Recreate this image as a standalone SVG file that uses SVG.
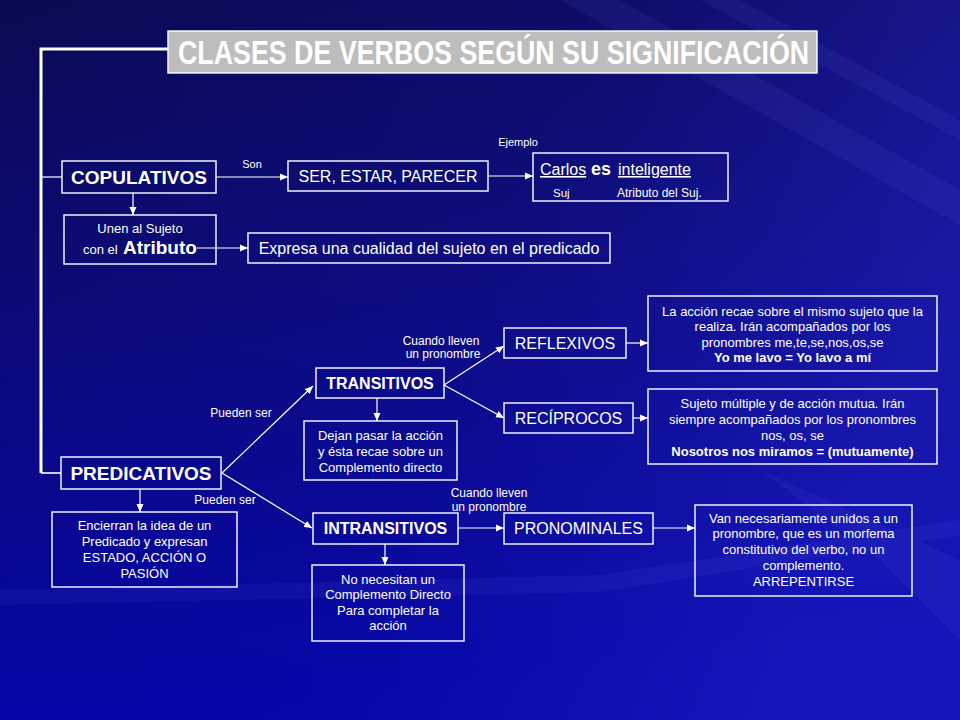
<svg xmlns="http://www.w3.org/2000/svg" width="960" height="720" viewBox="0 0 960 720">
<defs>
<linearGradient id="bg" x1="0" y1="0" x2="0.15" y2="1">
<stop offset="0" stop-color="#0a0a52"/>
<stop offset="0.45" stop-color="#0a0a78"/>
<stop offset="1" stop-color="#0303a6"/>
</linearGradient>
<linearGradient id="bg2" x1="0" y1="0" x2="1" y2="0.3">
<stop offset="0" stop-color="#2020c0" stop-opacity="0"/>
<stop offset="0.55" stop-color="#2020c0" stop-opacity="0.12"/>
<stop offset="1" stop-color="#2a2ad0" stop-opacity="0.45"/>
</linearGradient>
<marker id="ah" viewBox="0 0 8 8" refX="8" refY="4" markerWidth="8" markerHeight="8" markerUnits="userSpaceOnUse" orient="auto">
<path d="M0,0.5 L8,4 L0,7.5 z" fill="#fff"/>
</marker>
<style>
.box{fill:none;stroke:#fff;stroke-width:1.4}
.c{fill:none;stroke:#fff;stroke-width:1.2}
.t{font-family:"Liberation Sans",Arial,sans-serif;fill:#fff}
.m{text-anchor:middle}
.b{font-weight:bold}
.s11{font-size:11px}
.s12{font-size:12px}
.s13{font-size:13px}
.s16{font-size:16px}
.s19{font-size:19px}
</style>
</defs>
<rect width="960" height="720" fill="url(#bg)"/>
<rect width="960" height="720" fill="url(#bg2)"/>
<g opacity="0.07" fill="#8080ff">
<polygon points="560,0 620,0 960,190 960,225"/>
<polygon points="700,0 740,0 960,120 960,140"/>
<polygon points="0,590 600,575 960,520 960,535 600,592 0,605"/>
<polygon points="760,470 960,560 960,640 880,560"/>
</g>

<g id="title">
<rect x="168" y="31" width="649" height="42" fill="#bdbdbd" stroke="#fff" stroke-width="1.4"/>
<text class="t b" transform="translate(178,64) scale(0.80,1)" x="0" y="0" font-size="33.5">CLASES DE VERBOS SEGÚN SU SIGNIFICACIÓN</text>
</g>

<g id="connectors">
<polyline points="168,49 41,49 41,473" fill="none" stroke="#fff" stroke-width="3"/>
<line x1="41" y1="473" x2="61" y2="473" stroke="#fff" stroke-width="1.6"/>
<line x1="41" y1="177" x2="62" y2="177" class="c"/>
<line x1="216" y1="177" x2="288" y2="177" class="c" marker-end="url(#ah)"/>
<line x1="133" y1="193" x2="133" y2="215" class="c" marker-end="url(#ah)"/>
<line x1="197" y1="248" x2="248" y2="248" class="c" marker-end="url(#ah)"/>
<line x1="488" y1="176" x2="533" y2="176" class="c" marker-end="url(#ah)"/>
<line x1="222" y1="473" x2="313" y2="386" class="c" marker-end="url(#ah)"/>
<line x1="222" y1="473" x2="312" y2="528" class="c" marker-end="url(#ah)"/>
<line x1="140" y1="489" x2="140" y2="512" class="c" marker-end="url(#ah)"/>
<line x1="377" y1="398" x2="377" y2="421" class="c" marker-end="url(#ah)"/>
<line x1="444" y1="385" x2="504" y2="346" class="c" marker-end="url(#ah)"/>
<line x1="444" y1="385" x2="504" y2="418" class="c" marker-end="url(#ah)"/>
<line x1="626" y1="343" x2="648" y2="343" class="c" marker-end="url(#ah)"/>
<line x1="633" y1="418" x2="648" y2="418" class="c" marker-end="url(#ah)"/>
<line x1="458" y1="528" x2="504" y2="528" class="c" marker-end="url(#ah)"/>
<line x1="385" y1="544" x2="385" y2="565" class="c" marker-end="url(#ah)"/>
<line x1="653" y1="528" x2="695" y2="528" class="c" marker-end="url(#ah)"/>
</g>

<g id="labels">
<text class="t s11 m" x="252" y="168">Son</text>
<text class="t s11 m" x="518" y="146">Ejemplo</text>
<text class="t s12 m" x="441" y="345">Cuando lleven</text>
<text class="t s12 m" x="443" y="358">un pronombre</text>
<text class="t s12 m" x="489" y="497">Cuando lleven</text>
<text class="t s12 m" x="489" y="511">un pronombre</text>
<text class="t s12 m" x="241" y="417">Pueden ser</text>
<text class="t s12 m" x="225" y="504">Pueden ser</text>
</g>

<g id="copulativos">
<rect class="box" x="62" y="161" width="154" height="32"/>
<text class="t b s19 m" x="139" y="183.5">COPULATIVOS</text>
</g>

<g id="unen">
<rect class="box" x="64" y="215" width="152" height="49"/>
<text class="t s13 m" x="140" y="233">Unen al Sujeto</text>
<text class="t s13" x="83" y="254">con el</text>
<text class="t b s19" x="123" y="254">Atributo</text>
</g>

<g id="ser">
<rect class="box" x="288" y="161" width="200" height="30"/>
<text class="t s16 m" x="388" y="181.8">SER, ESTAR, PARECER</text>
</g>

<g id="ejemplo">
<rect class="box" x="533" y="153" width="195" height="48"/>
<text class="t s16" x="540" y="175" text-decoration="underline">Carlos</text>
<text class="t b" x="591" y="175" font-size="18">es</text>
<text class="t s16" x="618" y="175" text-decoration="underline">inteligente</text>
<text class="t" x="553" y="197" font-size="11.5">Suj</text>
<text class="t s12" x="617" y="197">Atributo del Suj.</text>
</g>

<g id="expresa">
<rect class="box" x="248" y="233" width="362" height="30"/>
<text class="t s16 m" x="429" y="253.6">Expresa una cualidad del sujeto en el predicado</text>
</g>

<g id="predicativos">
<rect class="box" x="61" y="457" width="160" height="32"/>
<text class="t b s19 m" x="141" y="480">PREDICATIVOS</text>
</g>

<g id="encierran">
<rect class="box" x="52" y="512" width="185" height="75"/>
<text class="t s13 m" x="144.5" y="529.5">Encierran la idea de un</text>
<text class="t s13 m" x="144.5" y="545.5">Predicado y expresan</text>
<text class="t s13 m" x="144.5" y="561.5">ESTADO, ACCIÓN  O</text>
<text class="t s13 m" x="144.5" y="577.5">PASIÓN</text>
</g>

<g id="transitivos">
<rect class="box" x="316" y="368" width="128" height="30"/>
<text class="t b s16 m" x="380" y="388.7">TRANSITIVOS</text>
</g>

<g id="dejan">
<rect class="box" x="304" y="421" width="153" height="59"/>
<text class="t s13 m" x="380.5" y="439.5">Dejan pasar la acción</text>
<text class="t s13 m" x="380.5" y="455.5">y ésta recae sobre un</text>
<text class="t s13 m" x="380.5" y="471.5">Complemento directo</text>
</g>

<g id="intransitivos">
<rect class="box" x="313" y="513" width="145" height="31"/>
<text class="t b s16 m" x="385.5" y="534">INTRANSITIVOS</text>
</g>

<g id="nonecesitan">
<rect class="box" x="312" y="565" width="152" height="76"/>
<text class="t s13 m" x="388" y="583.5">No necesitan un</text>
<text class="t s13 m" x="388" y="599">Complemento Directo</text>
<text class="t s13 m" x="388" y="614.5">Para  completar la</text>
<text class="t s13 m" x="388" y="630">acción</text>
</g>

<g id="reflexivos">
<rect class="box" x="504" y="328" width="122" height="30"/>
<text class="t s16 m" x="565" y="348.6">REFLEXIVOS</text>
</g>

<g id="reciprocos">
<rect class="box" x="504" y="403" width="129" height="30"/>
<text class="t s16 m" x="568.5" y="423.6">RECÍPROCOS</text>
</g>

<g id="pronominales">
<rect class="box" x="504" y="513" width="149" height="31"/>
<text class="t s16 m" x="578.5" y="534">PRONOMINALES</text>
</g>

<g id="reflexivos-desc">
<rect class="box" x="648" y="296" width="289" height="75"/>
<text class="t s13 m" x="792.5" y="315.5">La acción recae  sobre el mismo sujeto que la</text>
<text class="t s13 m" x="792.5" y="331">realiza.  Irán  acompañados por los</text>
<text class="t s13 m" x="792.5" y="346.5">pronombres me,te,se,nos,os,se</text>
<text class="t s13 m b" x="792.5" y="362">Yo me lavo = Yo lavo a mí</text>
</g>

<g id="reciprocos-desc">
<rect class="box" x="648" y="389" width="289" height="75"/>
<text class="t s13 m" x="792.5" y="407.5">Sujeto múltiple y de acción mutua. Irán</text>
<text class="t s13 m" x="792.5" y="423.5">siempre acompañados por los pronombres</text>
<text class="t s13 m" x="792.5" y="439.5">nos, os, se</text>
<text class="t s13 m b" x="792.5" y="455.5">Nosotros  nos miramos = (mutuamente)</text>
</g>

<g id="pronominales-desc">
<rect class="box" x="695" y="505" width="217" height="91"/>
<text class="t s13 m" x="803.5" y="522.5">Van necesariamente  unidos a un</text>
<text class="t s13 m" x="803.5" y="538">pronombre, que es un morfema</text>
<text class="t s13 m" x="803.5" y="553.5">constitutivo del verbo, no un</text>
<text class="t s13 m" x="803.5" y="569.5">complemento.</text>
<text class="t s13 m" x="803.5" y="585.5">ARREPENTIRSE</text>
</g>
</svg>
